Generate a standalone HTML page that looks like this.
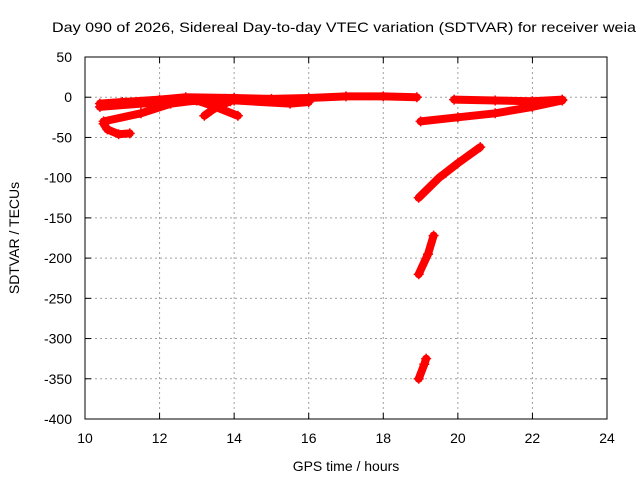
<!DOCTYPE html>
<html><head><meta charset="utf-8"><style>
body{margin:0;background:#fff;font-family:"Liberation Sans",sans-serif}
svg text{font-family:"Liberation Sans",sans-serif;font-size:14px;fill:#000}
</style></head><body>
<svg id="chart" width="640" height="480" xmlns="http://www.w3.org/2000/svg">
<text x="52" y="32" textLength="584" lengthAdjust="spacingAndGlyphs">Day 090 of 2026, Sidereal Day-to-day VTEC variation (SDTVAR) for receiver weia</text>
<g id="grid"></g>
<g id="ticks"></g>
<g id="series"></g>
<rect x="85" y="57" width="522" height="362" fill="none" stroke="#000" stroke-width="1"/>
<text x="346" y="471" text-anchor="middle">GPS time / hours</text>
<text transform="translate(19,238) rotate(-90)" text-anchor="middle">SDTVAR / TECUs</text>
</svg>
<script>
const xTicks=[10,12,14,16,18,20,22,24];
const yTicks=[50,0,-50,-100,-150,-200,-250,-300,-350,-400];
const trackTopHours=[10.4,11,12,12.7,14,15,16,17,18,18.9];
const trackTopValues=[-8,-6,-3,0,-1,-2,-1,1,1,0];
const trackLowHours=[10.4,11.5,12.5,14,15.5,16];
const trackLowValues=[-12,-8,-5,-4,-8,-6];
const trackRiseHours=[10.5,11.5,12.3,13,13.5,14.1];
const trackRiseValues=[-30,-20,-8,-4,-12,-23];
const trackCrossHours=[13.2,13.5,13.9];
const trackCrossValues=[-23,-13,-5];
const trackHookHours=[10.5,10.6,10.9,11.2];
const trackHookValues=[-33,-40,-46,-45];
const trackEveHours=[19.9,21,22,22.8];
const trackEveValues=[-3,-4,-5,-3];
const trackEve2Hours=[19,20,21,22,22.8];
const trackEve2Values=[-30,-25,-20,-12,-4];
const trackAHours=[18.95,19.5,20,20.6];
const trackAValues=[-125,-100,-82,-62];
const trackBHours=[18.95,19.2,19.35];
const trackBValues=[-220,-195,-172];
const trackCHours=[18.95,19.1,19.15];
const trackCValues=[-350,-332,-325];
const tracks=[[trackTopHours,trackTopValues],[trackLowHours,trackLowValues],[trackRiseHours,trackRiseValues],[trackCrossHours,trackCrossValues],[trackHookHours,trackHookValues],[trackEveHours,trackEveValues],[trackEve2Hours,trackEve2Values],[trackAHours,trackAValues],[trackBHours,trackBValues],[trackCHours,trackCValues]];
const X=h=>85+(h-10)*522/14;
const Y=v=>57+(50-v)*362/450;
const NS="http://www.w3.org/2000/svg";
function mk(t,a,p){const e=document.createElementNS(NS,t);for(const k in a)e.setAttribute(k,a[k]);p.appendChild(e);return e;}
const grid=document.getElementById('grid'),ticks=document.getElementById('ticks'),ser=document.getElementById('series');
xTicks.forEach(t=>{const x=X(t);
 if(t>10&&t<24){const g=mk('line',{x1:x,x2:x,y1:57,y2:419,stroke:'#a0a0a0','stroke-dasharray':'2,3'},grid);
 
 }
 mk('line',{x1:x,x2:x,y1:419,y2:413,stroke:'#000'},ticks);mk('line',{x1:x,x2:x,y1:57,y2:63,stroke:'#000'},ticks);
 const l=mk('text',{x:x,y:443,'text-anchor':'middle'},ticks);l.textContent=t;
 
 });
yTicks.forEach(t=>{const y=Y(t);
 if(t<50&&t>-400){const g=mk('line',{x1:85,x2:607,y1:y,y2:y,stroke:'#a0a0a0','stroke-dasharray':'2,3'},grid);
 
 }
 mk('line',{x1:85,x2:91,y1:y,y2:y,stroke:'#000'},ticks);mk('line',{x1:607,x2:601,y1:y,y2:y,stroke:'#000'},ticks);
 const l=mk('text',{x:72,y:y+5,'text-anchor':'end'},ticks);l.textContent=t;
 
 });
tracks.forEach(([hs,vs])=>{
 const p=mk('polyline',{points:hs.map((h,i)=>X(h)+','+Y(vs[i])).join(' '),fill:'none',stroke:'#f00','stroke-width':8,'stroke-linejoin':'round','stroke-linecap':'round'},ser);
 
 
 hs.forEach((h,i)=>{const m=mk('path',{d:`M${X(h)-5},${Y(vs[i])}h10M${X(h)},${Y(vs[i])-5}v10`,stroke:'#f00','stroke-width':1.5},ser);
 
 });
});
</script>
</body></html>
